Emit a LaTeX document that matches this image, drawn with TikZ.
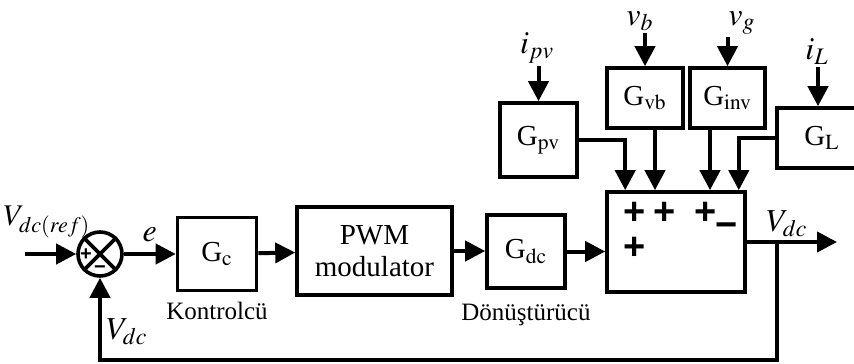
\documentclass[tikz,border=0pt]{standalone}
\usepackage{mathptmx}
\usepackage{fontspec}
\setmainfont{Liberation Serif}
\setsansfont{Liberation Sans}
\usetikzlibrary{positioning,calc,arrows.meta}

\begin{document}
\begin{tikzpicture}[x=0.5pt, y=-0.5pt, >={Triangle[length=10pt,width=10pt]},
  block/.style={rectangle, draw=black, line width=1.8pt, inner sep=0pt, align=center, font=\fontsize{14.5}{16}\selectfont},
  arrow/.style={->, line width=2pt},
  line/.style={line width=1.8pt},
  lbl/.style={inner sep=1pt, font=\fontsize{16}{18}\selectfont},
  caption/.style={inner sep=1pt, font=\fontsize{12.5}{14}\selectfont},
  sgn/.style={inner sep=0pt, font=\fontsize{19}{19}\selectfont\sffamily\bfseries}]

  \useasboundingbox (0,0) rectangle (854,363);
  \clip (0,0) rectangle (854,363);

  % main loop
  \node [circle, draw, line width=1.8pt, minimum size=22pt, inner sep=0pt] (sum) at (100,254) {};
  \node [block, minimum width=39.5pt, minimum height=36.5pt] (Gc) at (217,254) {G$_{\mathrm{c}}$};
  \node [block, minimum width=77.5pt, minimum height=44pt] (pwm) at (374.5,251) {PWM\\ modulator};
  \node [block, minimum width=39pt, minimum height=36.5pt] (Gdc) at (526,251.5) {G$_{\mathrm{dc}}$};
  \node [block, minimum width=69pt, minimum height=50pt] (sbox) at (676,242) {};

  % disturbance blocks
  \node [block, minimum width=38.5pt, minimum height=37pt] (Gpv) at (538.5,140) {G$_{\mathrm{pv}}$};
  \node [block, minimum width=38pt, minimum height=30pt] (Gvb) at (645,98) {G$_{\mathrm{vb}}$};
  \node [block, minimum width=37.5pt, minimum height=30pt] (Ginv) at (727.5,98) {G$_{\mathrm{inv}}$};
  \node [block, minimum width=45pt, minimum height=30pt] (GL) at (822,138) {G$_{\mathrm{L}}$};

  % signs
  \node [inner sep=0pt, font=\fontsize{10}{10}\selectfont\sffamily\bfseries] (sp) at (86,255) {+};
  \node [inner sep=0pt, font=\fontsize{10}{10}\selectfont\sffamily\bfseries] (sm) at (100,270) {−};
  \draw [line] (sum.north west) -- (sum.south east);
  \draw [line] (sum.north east) -- (sum.south west);
  \node [sgn] (p1) at (635,213) {+};
  \node [sgn] (p2) at (665,213) {+};
  \node [sgn] (p3) at (706,213) {+};
  \node [sgn] (m1) at (727,230) {−};
  \node [sgn] (p4) at (635,248) {+};

  % labels
  \node [lbl, font=\fontsize{15}{17}\selectfont] (lref) at (47,222) {$V_{dc(ref)}$};
  \node [lbl] (lfb) at (127,332) {$V_{dc}$};
  \node [lbl] (lout) at (787,224) {$V_{dc}$};
  \node [caption, below=3.5pt of Gc] (kont) {Kontrolcü};
  \node [caption, below=6pt of Gdc] (donus) {Dönüştürücü};
  \node [lbl] (lipv) at (537,48) {$i_{pv}$};
  \node [lbl] (lvb) at (640,21) {$v_b$};
  \node [lbl] (lvg) at (742,23) {$v_g$};
  \node [lbl] (liL) at (817,52) {$i_L$};

  \coordinate (in) at (25,254);
  \coordinate (br) at (777,242);
  \coordinate (out) at (837,242);
  \coordinate (fb) at (777,360);

  % connectors
  \draw [arrow] (in) -- (sum.west);
  \draw [arrow] (sum.east) -- node[lbl, above=4pt]{$e$} (Gc.west);
  \draw [arrow] (Gc) -- (pwm);
  \draw [arrow] (pwm) -- (pwm.east -| Gdc.west);
  \draw [arrow] (Gdc.east) -- (Gdc.east -| sbox.west);
  \draw [arrow] (sbox.east) -- (out);
  \draw [arrow] (br) -- (fb) -| (sum.south);

  \draw [arrow] (lipv.south -| Gpv.north) -- (Gpv.north);
  \draw [arrow] (lvb.south -| Gvb.north) -- (Gvb.north);
  \draw [arrow] (lvg.south -| Ginv.north) -- (Ginv.north);
  \draw [arrow] (liL.south -| 818,0) -- (818,0 |- GL.north);

  \draw [arrow] (Gpv.east) -| ([xshift=10pt]sbox.north west);
  \draw [arrow] ([xshift=5pt]Gvb.south) -- ([xshift=5pt]Gvb.south |- sbox.north);
  \draw [arrow] ([xshift=-8.75pt]Ginv.south) -- ([xshift=-8.75pt]Ginv.south |- sbox.north);
  \draw [arrow] (GL.west) -| ([xshift=-4pt]sbox.north east);
\end{tikzpicture}
\end{document}
